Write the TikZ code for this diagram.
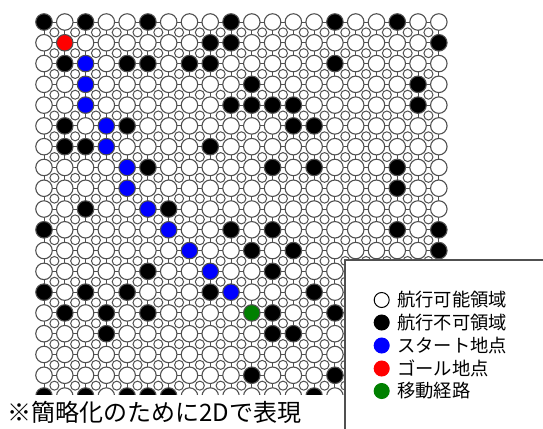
\documentclass[tikz,border=0pt]{standalone}
\usepackage{fontspec}
\usetikzlibrary{calc}
\newfontfamily\jp{Noto Sans CJK JP}
\definecolor{gridgray}{HTML}{505050}
\definecolor{pathgreen}{HTML}{008000}
\tikzset{
  cell/.style={circle, draw=gridgray, line width=1.1pt, minimum size=16.5pt, inner sep=0pt},
  link/.style={draw=gridgray, line width=0.9pt},
  gapdot/.style={circle, draw=gridgray, fill=white, line width=1pt, minimum size=9pt, inner sep=0pt},
  legdot/.style={circle, draw=black, line width=1pt, minimum size=15pt, inner sep=0pt},
  legtext/.style={anchor=west, font=\jp\fontsize{18.3}{20}\selectfont, inner sep=0pt},
  notetext/.style={anchor=west, font=\jp\fontsize{24}{26}\selectfont, inner sep=0pt},
  boxline/.style={draw=gridgray, line width=1.5pt},
}
\begin{document}
\begin{tikzpicture}[x=1pt,y=-1pt]
\useasboundingbox (0,0) rectangle (543,428);
\fill[white] (0,0) rectangle (543,428);
% cell states
\foreach \c in {0/0,2/0,5/0,9/0,14/0,17/0,
  8/1,9/1,19/1,
  1/2,4/2,5/2,7/2,8/2,14/2,
  10/3,18/3,
  9/4,10/4,11/4,12/4,18/4,
  1/5,4/5,12/5,13/5,
  1/6,2/6,8/6,
  5/7,11/7,13/7,17/7,
  17/8,
  2/9,6/9,
  0/10,9/10,11/10,17/10,19/10,
  10/11,12/11,19/11,
  5/12,11/12,
  0/13,2/13,4/13,8/13,13/13,
  1/14,3/14,5/14,11/14,14/14,
  3/15,11/15,12/15,
  10/17,14/17,
  0/18,2/18,4/18,5/18,6/18,13/18}{\expandafter\xdef\csname st-\c\endcsname{black}}
\foreach \c in {2/2,2/3,2/4,3/5,3/6,4/7,4/8,5/9,6/10,7/11,8/12,9/13}{\expandafter\xdef\csname st-\c\endcsname{blue}}
\expandafter\xdef\csname st-1/1\endcsname{red}
\expandafter\xdef\csname st-10/14\endcsname{pathgreen}
% grid positions
\foreach \j in {0,...,18}{\foreach \i in {0,...,19}{
  \coordinate (p-\i-\j) at ({44+20.78*\i},{22+20.78*\j});
}}
% links
\foreach \j in {0,...,18}{\foreach \i in {0,...,18}{
  \pgfmathtruncatemacro\ni{\i+1}
  \draw[link] (p-\i-\j) -- (p-\ni-\j);
}}
\foreach \j in {0,...,17}{\foreach \i in {0,...,19}{
  \pgfmathtruncatemacro\nj{\j+1}
  \draw[link] (p-\i-\j) -- (p-\i-\nj);
}}
% interstitial dots
\foreach \j in {0,...,17}{\foreach \i in {0,...,18}{
  \pgfmathtruncatemacro\ni{\i+1}
  \pgfmathtruncatemacro\nj{\j+1}
  \node[gapdot] (g-\i-\j) at ($(p-\i-\j)!0.5!(p-\ni-\nj)$) {};
}}
% cells
\foreach \j in {0,...,18}{\foreach \i in {0,...,19}{
  \ifcsname st-\i/\j\endcsname\edef\fc{\csname st-\i/\j\endcsname}\else\def\fc{white}\fi
  \node[cell, fill=\fc] (n-\i-\j) at (p-\i-\j) {};
}}
% note band
\fill[white] (0,395) rectangle (345,428);
\node[notetext] (note) at (7,412.5) {※簡略化のために2Dで表現};
% legend box
\fill[white] (345,260) rectangle (543,428);
\coordinate (bx-bl) at (345,440);
\coordinate (bx-tl) at (345,260);
\coordinate (bx-tr) at (560,260);
\draw[boxline] (bx-bl) -- (bx-tl) -- (bx-tr);
\node[legdot, fill=white] (l1) at (381.7,300) {};
\node[legdot, fill=black] (l2) at (381.7,322.5) {};
\node[legdot, fill=blue, draw=blue] (l3) at (381.7,345.5) {};
\node[legdot, fill=red, draw=red] (l4) at (381.7,368.5) {};
\node[legdot, fill=pathgreen, draw=pathgreen] (l5) at (381.7,391) {};
\node[legtext] (t1) at (397,300) {航行可能領域};
\node[legtext] (t2) at (397,322.5) {航行不可領域};
\node[legtext] (t3) at (397,345.5) {スタート地点};
\node[legtext] (t4) at (397,368.5) {ゴール地点};
\node[legtext] (t5) at (397,391) {移動経路};
\end{tikzpicture}
\end{document}
